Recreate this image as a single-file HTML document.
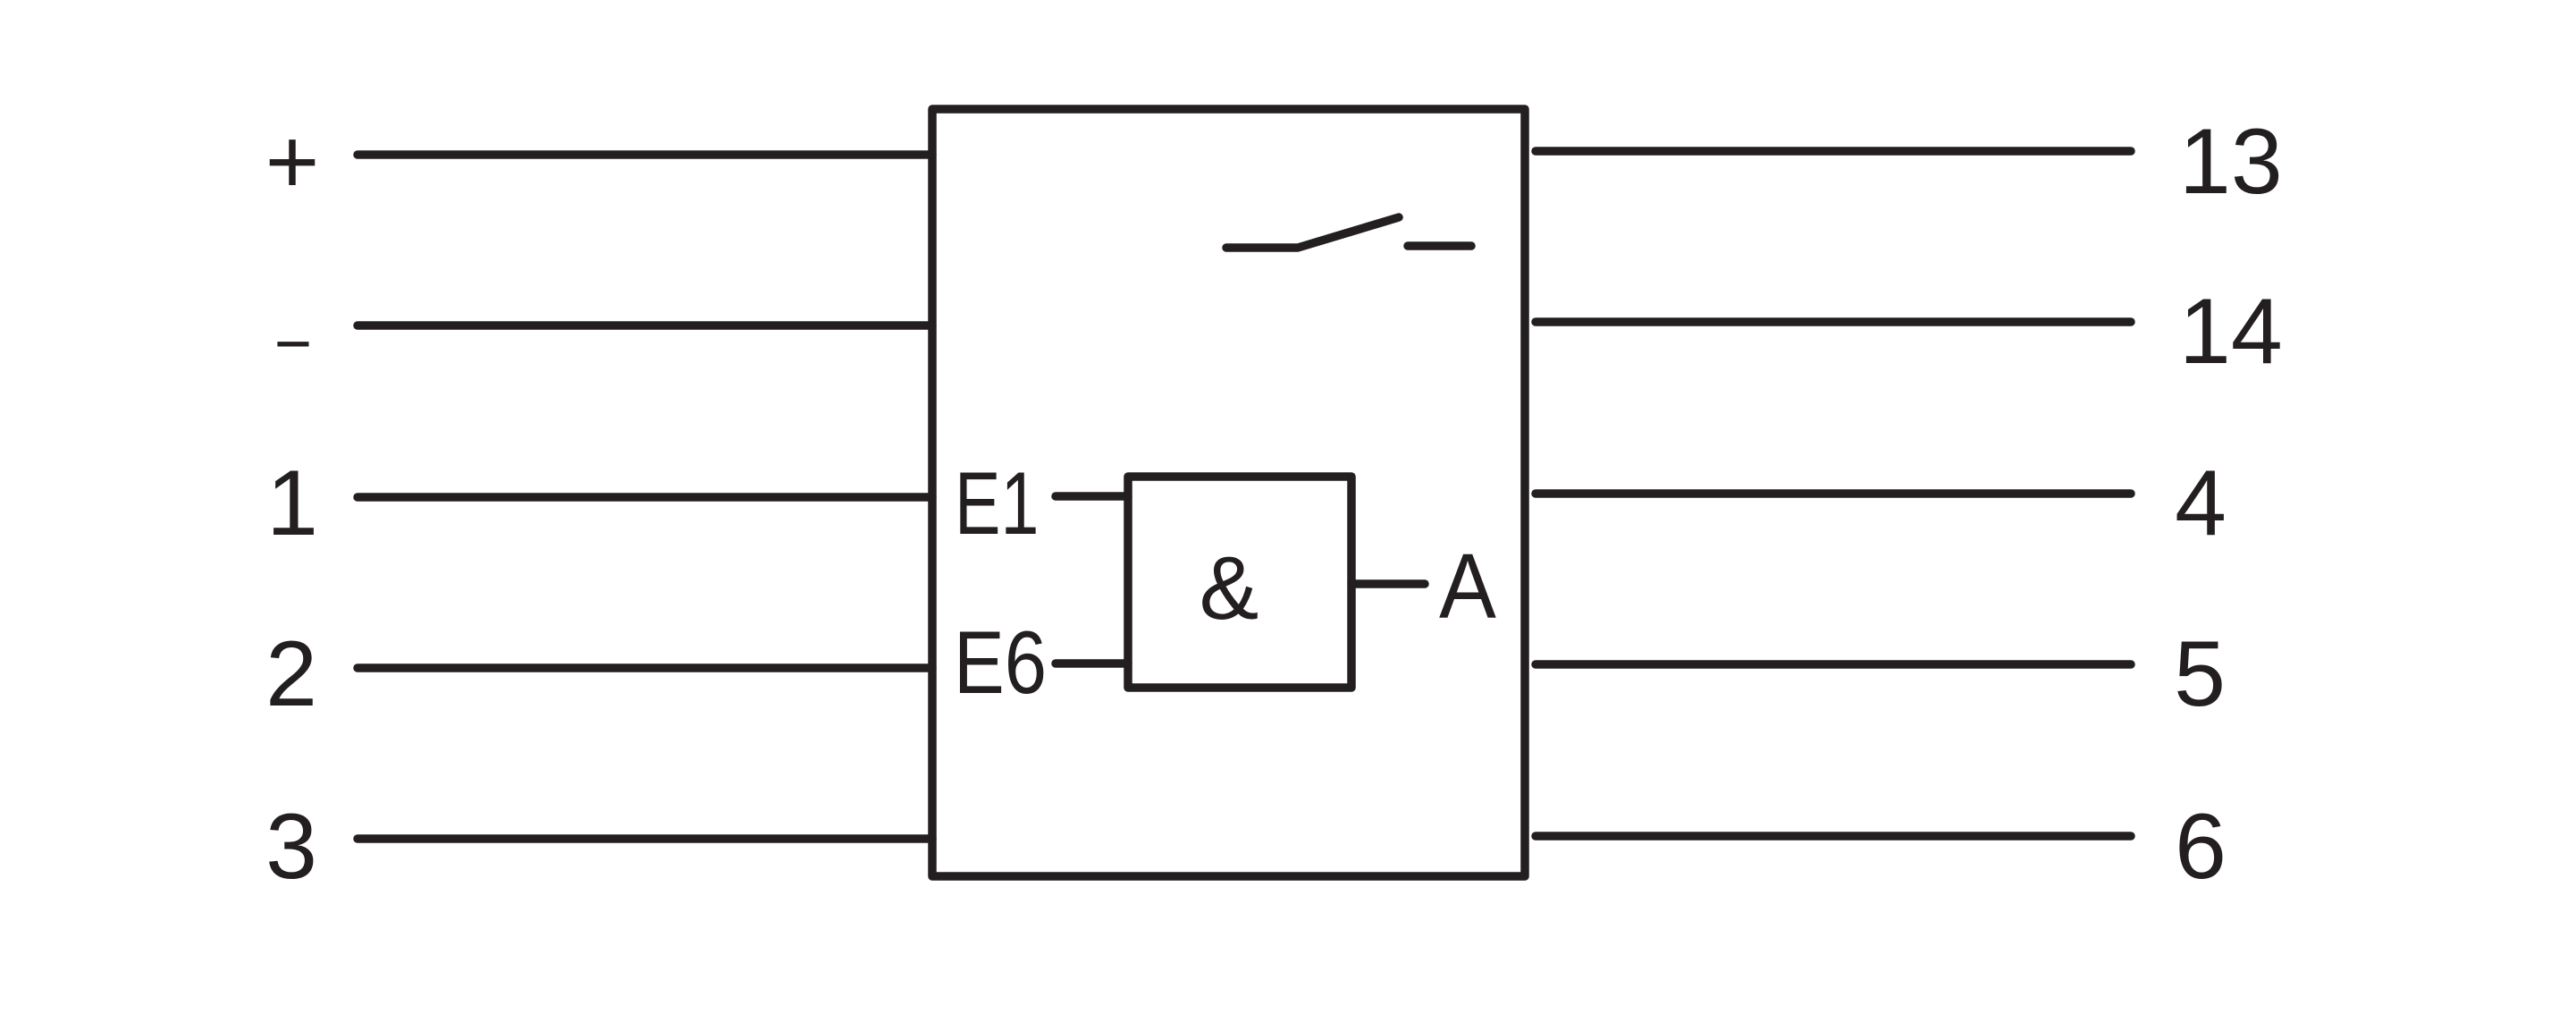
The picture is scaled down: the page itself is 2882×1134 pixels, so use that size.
<!DOCTYPE html>
<html>
<head>
<meta charset="utf-8">
<style>
  html, body { margin: 0; padding: 0; background: #ffffff; }
  body { width: 2882px; height: 1134px; overflow: hidden; }
  svg { display: block; }
  text { font-family: "Liberation Sans", "DejaVu Sans", sans-serif; fill: #231f20; }
</style>
</head>
<body>
<svg width="2882" height="1134" viewBox="0 0 2882 1134" xmlns="http://www.w3.org/2000/svg">
  <rect x="0" y="0" width="2882" height="1134" fill="#ffffff"/>
  <g stroke="#231f20" stroke-width="9.5" stroke-linecap="round" stroke-linejoin="round" fill="none">
    <!-- main box -->
    <rect x="1043" y="122" width="663" height="858"/>
    <!-- left lines -->
    <line x1="400" y1="173" x2="1043" y2="173"/>
    <line x1="400" y1="364" x2="1043" y2="364"/>
    <line x1="400" y1="556" x2="1043" y2="556"/>
    <line x1="400" y1="747" x2="1043" y2="747"/>
    <line x1="400" y1="938" x2="1043" y2="938"/>
    <!-- right lines -->
    <line x1="1718" y1="169" x2="2384" y2="169"/>
    <line x1="1718" y1="360" x2="2384" y2="360"/>
    <line x1="1718" y1="552" x2="2384" y2="552"/>
    <line x1="1718" y1="743" x2="2384" y2="743"/>
    <line x1="1718" y1="935" x2="2384" y2="935"/>
    <!-- switch -->
    <polyline points="1372,277 1452,277 1565,243"/>
    <line x1="1575" y1="275" x2="1646" y2="275"/>
    <!-- AND box -->
    <rect x="1262" y="533" width="250" height="236"/>
    <line x1="1181" y1="555" x2="1262" y2="555"/>
    <line x1="1181" y1="742" x2="1262" y2="742"/>
    <line x1="1512" y1="653" x2="1594" y2="653"/>
  </g>

  <!-- left labels -->
  <text x="327" y="216" font-size="104" text-anchor="middle">+</text>
  <text transform="translate(328,405) scale(0.79,1)" x="0" y="0" font-size="80" text-anchor="middle">–</text>
  <text x="327" y="598" font-size="104" text-anchor="middle">1</text>
  <text x="326" y="789" font-size="104" text-anchor="middle">2</text>
  <text x="326" y="982" font-size="104" text-anchor="middle">3</text>

  <!-- right labels -->
  <text x="2438" y="216" font-size="104">13</text>
  <text x="2438" y="406" font-size="104">14</text>
  <text x="2462" y="598" font-size="104" text-anchor="middle">4</text>
  <text x="2461" y="789" font-size="104" text-anchor="middle">5</text>
  <text x="2462" y="982" font-size="104" text-anchor="middle">6</text>

  <!-- inner labels -->
  <text transform="translate(1068,597) scale(0.78,1)" font-size="99">E1</text>
  <text transform="translate(1067,775) scale(0.86,1)" font-size="99">E6</text>
  <text x="1375" y="692" font-size="100" text-anchor="middle">&amp;</text>
  <text transform="translate(1610,691) scale(0.93,1)" font-size="103">A</text>
</svg>
</body>
</html>
